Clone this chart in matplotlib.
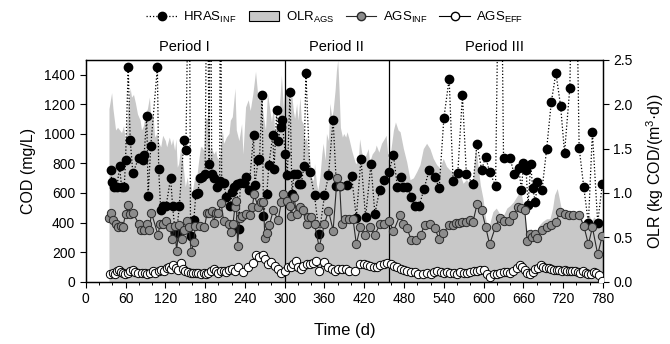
import matplotlib
matplotlib.use("Agg")
import matplotlib.pyplot as plt
from matplotlib.patches import Patch
from matplotlib.lines import Line2D
from matplotlib.ticker import MultipleLocator, FormatStrFormatter

plt.rcParams['font.family'] = ['Liberation Sans', 'DejaVu Sans']
plt.rcParams['mathtext.fontset'] = 'custom'
plt.rcParams['mathtext.rm'] = 'Liberation Sans'
plt.rcParams['mathtext.default'] = 'regular'

# HRAS influent COD (mg/L); points above 1500 run off the top of the chart
hras_day = [38, 39, 43, 47, 51, 54, 58, 60, 64, 67, 71, 80, 83, 86, 88, 92, 94, 98, 108, 110,
            113, 117, 121, 128, 131, 135, 137, 141, 148, 151, 156, 158, 163, 166, 169, 172, 176, 180, 183, 186,
            188, 190, 194, 198, 202, 203, 205, 208, 212, 218, 221, 224, 228, 231, 233, 238,
            241, 246, 253, 255, 260, 262, 266, 268, 273, 276, 282, 284, 288, 290, 294, 296, 301, 304, 308, 311,
            314, 318, 322, 325, 329, 332, 338, 345, 352, 360, 366, 373, 378, 383, 394, 401, 408, 415, 422, 430,
            436, 443, 450, 457, 464, 470,
            476, 479, 485, 491, 496, 503, 510, 518, 526, 533, 540, 548, 554, 561, 568, 574, 584, 590, 597, 603,
            609, 618, 625, 630, 640, 646, 653, 657, 660, 664, 667, 671, 674, 678, 681, 688, 695, 702, 709, 716,
            722, 730, 737, 744, 751, 758, 764, 772, 779]
hras_val = [753, 673, 640, 640, 780, 640, 640, 820, 1449, 961, 735, 838, 838, 825, 854, 1123, 579, 915, 1449, 759,
            486, 509, 509, 701, 509, 328, 328, 509, 956, 888, 2500, 310, 418, 594, 603, 698, 707, 725, 2500, 798,
            2500, 725, 701, 640, 680, 2500, 669, 669, 572, 509, 606, 640, 662, 357, 667, 667,
            707, 622, 990, 655, 825, 832, 1261, 447, 594, 786, 990, 764, 1164, 951, 1046, 1092, 861, 719, 1284, 594,
            725, 730, 662, 662, 780, 1408, 741, 583, 323, 583, 719, 1096, 644, 644, 651, 712, 432, 832, 436, 793,
            459, 617, 685, 741, 854, 640,
            711, 643, 643, 571, 514, 514, 627, 756, 711, 636, 1105, 1372, 681, 733, 1263, 726, 659, 934, 756, 846,
            740, 650, 3000, 835, 835, 726, 767, 620, 801, 756, 519, 794, 632, 537, 677, 620, 896, 1214, 1410, 1191,
            873, 1313, 3000, 907, 638, 395, 1011, 399, 659]

# AGS influent COD (mg/L)
inf_day = [35, 38, 41, 45, 49, 53, 56, 60, 64, 67, 71, 80, 83, 88, 92, 96, 99, 109, 112, 116,
           121, 127, 130, 134, 137, 141, 145, 148, 152, 156, 159, 163, 165, 172, 179, 183, 186, 190, 193, 196,
           200, 204, 208, 216, 219, 222, 225, 227, 229, 232, 236,
           241, 247, 251, 254, 260, 265, 268, 270, 273, 277, 283, 290, 295, 298, 303, 308, 310, 314, 318, 323,
           327, 333, 335, 340, 345, 352, 360, 366, 373, 379, 383, 386, 391, 397, 403, 408, 414, 421, 428, 436,
           444, 450, 458, 464,
           474, 479, 484, 491, 498, 505, 511, 519, 526, 533, 539, 548, 554, 559, 563, 568, 574, 579, 584, 590,
           597, 603, 609, 618, 624, 631, 639, 645, 652, 657, 662, 666, 670, 673, 677, 681, 688, 695, 702, 709,
           715, 722, 729, 735, 744, 751, 758, 764, 772, 779]
inf_val = [432, 463, 414, 391, 373, 375, 368, 459, 522, 459, 466, 391, 350, 350, 391, 350, 466, 316, 391, 391,
           409, 368, 289, 380, 210, 386, 289, 350, 409, 368, 199, 267, 380, 380, 368, 466, 466, 475, 400, 466,
           466, 533, 409, 391, 339, 391, 504, 545, 244, 429, 443,
           459, 452, 504, 590, 504, 538, 542, 296, 328, 386, 486, 414, 538, 590, 549, 515, 443, 572, 459, 504,
           486, 391, 436, 436, 391, 233, 391, 481, 346, 701, 644, 391, 425, 425, 425, 255, 368, 319, 373, 319,
           391, 391, 409, 341,
           451, 388, 365, 282, 282, 316, 384, 388, 365, 287, 327, 384, 384, 395, 395, 402, 402, 417, 406, 523,
           485, 372, 253, 372, 433, 411, 411, 451, 508, 496, 485, 275, 320, 305, 320, 298, 350, 372, 384, 402,
           474, 456, 451, 451, 451, 379, 253, 368, 185, 311]

# AGS effluent COD (mg/L)
eff_day = [37, 41, 44, 47, 50, 53, 56, 59, 63, 67, 71, 75, 79, 85, 89, 93, 97, 101, 105, 110,
           114, 118, 122, 126, 129, 132, 136, 139, 143, 147, 150, 154, 158, 162, 166, 170, 174, 178, 182, 185,
           189, 193, 196, 200, 204, 208, 212, 216, 220, 225, 230, 237, 245, 252, 257, 262, 267, 271, 275, 280,
           285, 290, 295, 300, 305, 309, 313, 317, 320, 324, 328, 333, 338, 343, 347, 352, 360, 365, 371, 376,
           381, 386, 392, 397, 406, 414, 419, 424, 429, 434, 439, 444, 449, 454, 460, 465, 470, 475, 480, 485,
           491, 496, 501, 508, 514, 520, 525, 530, 535, 540, 545, 550, 555, 560, 565, 570, 575, 580, 585, 590,
           595, 600, 605, 609, 615, 620, 625, 630, 635, 640, 645, 650, 655, 658, 662, 666, 670, 674, 678, 682,
           686, 690, 694, 698, 702, 706, 710, 714, 718, 722, 726, 730, 734, 738, 742, 746, 750, 754, 758, 762,
           766, 770, 774, 778]
eff_val = [55, 60, 55, 70, 80, 65, 60, 55, 60, 75, 80, 65, 60, 60, 60, 55, 60, 70, 60, 75,
           80, 70, 90, 100, 85, 110, 95, 80, 130, 85, 75, 65, 60, 60, 60, 60, 55, 60, 55, 60,
           75, 85, 70, 60, 75, 70, 65, 80, 86, 75, 97, 63, 102, 124, 183, 165, 183, 154, 120, 131,
           108, 86, 56, 75, 97, 97, 120, 138, 102, 86, 108, 120, 120, 124, 138, 75, 131, 97, 86, 75,
           86, 86, 86, 75, 70, 120, 120, 115, 108, 97, 102, 113, 120, 124, 120, 108, 97, 86, 79, 75,
           63, 63, 52, 52, 56, 55, 65, 75, 65, 60, 65, 60, 60, 55, 65, 60, 60, 65, 70, 75,
           80, 80, 50, 30, 55, 55, 60, 65, 65, 60, 70, 90, 110, 100, 80, 60, 50, 65, 85, 95,
           110, 100, 95, 90, 85, 80, 80, 80, 75, 80, 75, 70, 75, 70, 65, 60, 70, 60, 55, 55,
           65, 60, 45, 5]

# AGS organic loading rate, kg COD/(m3.d)
olr_day = [35, 39, 41, 45, 48, 51, 54, 57, 60, 62, 64, 67, 69, 72, 75, 78, 82, 84, 87, 90,
           93, 96, 98, 101, 104, 107, 110, 113, 116, 120, 122, 126, 129, 131, 134, 136, 138, 140, 143, 146,
           150, 153, 155, 158, 160, 163, 165, 168, 170, 173, 175, 178, 180, 183, 185, 187, 189, 193, 196, 198,
           201, 203, 206, 208, 212, 216, 218,
           221, 225, 227, 231, 235, 237, 241, 245, 248, 252, 256, 260, 264, 268, 271, 274, 277, 280, 283, 285,
           288, 290, 293, 295, 298, 300, 303, 305, 308, 310, 313, 315, 318, 320, 323, 325, 328, 330, 333, 335,
           338, 340, 343, 345, 348, 350, 353, 356, 358, 361, 363, 366, 368, 371, 373, 376, 378, 380, 382, 384,
           387, 389, 392, 394, 397, 401, 404, 407, 411, 413, 416, 418, 422, 426, 428, 432, 436, 438, 442, 446,
           450, 453, 456, 460, 464, 467, 471,
           474, 479, 484, 489, 494, 499, 504, 509, 514, 519, 524, 529, 534, 539, 544, 549, 554, 559, 564, 569,
           574, 579, 584, 588, 592, 595, 599, 603, 607, 610, 614, 619, 624, 630, 635, 640, 645, 650, 655, 657,
           661, 664, 667, 671, 675, 680, 684, 689, 695, 700, 704, 707, 711, 714, 718, 723, 728, 733, 738, 743,
           748, 751, 755, 759, 763, 766, 770, 774, 777, 780]
olr_val = [1.95, 2.13, 1.95, 1.71, 1.74, 1.71, 1.68, 1.76, 1.56, 1.78, 2.01, 2.18, 2.08, 2.11, 2.01, 1.89, 1.82, 1.71, 1.76, 1.90,
           1.95, 2.08, 1.84, 1.90, 1.63, 1.67, 1.57, 1.52, 1.65, 1.59, 1.52, 1.63, 1.54, 1.61, 1.48, 1.61, 1.29, 1.33, 1.50, 1.37,
           1.07, 1.18, 1.07, 1.14, 0.99, 1.12, 1.20, 1.22, 1.35, 1.52, 1.52, 1.48, 1.84, 1.84, 2.01, 1.48, 1.52, 1.44, 1.48, 1.40,
           1.37, 1.48, 1.71, 1.56, 1.63, 1.67, 1.82,
           1.86, 2.18, 1.71, 1.59, 1.78, 1.44, 1.97, 2.05, 1.93, 2.12, 2.37, 2.05, 2.12, 1.86, 1.71, 2.12, 1.97, 1.80, 1.97, 1.65,
           1.63, 1.82, 2.08, 2.33, 1.95, 2.20, 2.10, 2.16, 2.01, 2.16, 1.93, 1.84, 2.01, 1.82, 2.08, 1.82, 1.78, 1.59, 1.63, 1.48,
           1.37, 1.18, 1.14, 1.33, 1.10, 1.03, 1.18, 1.44, 1.56, 1.37, 1.67, 1.59, 2.01, 1.86, 1.93, 2.16, 2.38, 2.50, 2.16, 1.74,
           1.63, 1.67, 1.63, 1.69, 1.61, 1.48, 1.40, 1.33, 1.37, 1.61, 1.46, 1.40, 1.42, 1.50, 1.35, 1.44, 1.48, 1.54, 1.46, 1.56,
           1.61, 1.65, 1.37, 1.48, 1.71, 1.80, 1.71,
           1.69, 1.50, 1.35, 1.15, 1.17, 1.24, 1.32, 1.50, 1.56, 1.50, 1.39, 1.32, 1.28, 1.39, 1.30, 1.26, 1.24, 1.20, 1.22, 1.11,
           1.15, 1.11, 1.17, 1.54, 1.28, 1.09, 0.94, 0.71, 0.56, 0.68, 0.79, 0.83, 0.77, 0.75, 0.83, 0.86, 0.90, 0.96, 1.02, 0.98,
           0.83, 0.64, 0.53, 0.60, 0.56, 0.58, 0.64, 0.68, 0.71, 0.71, 0.83, 0.98, 1.05, 0.94, 0.79, 0.75, 0.75, 0.77, 0.75, 0.79,
           0.71, 0.64, 0.71, 0.75, 0.68, 0.73, 0.70, 0.70, 0.71, 0.68]

period_bounds = [300, 458]
period_names = ['Period I', 'Period II', 'Period III']
period_label_x = [149, 378, 617]

fig = plt.figure(figsize=(6.7, 3.44), dpi=100)
ax = fig.add_axes([0.128, 0.181, 0.772, 0.645])
ax2 = ax.twinx()
ax.set_zorder(ax2.get_zorder() + 1)
ax.patch.set_visible(False)

olr_color = '#c8c8c8'
ax2.fill_between(olr_day, olr_val, 0, color=olr_color, lw=0)
ax2.set_ylim(0, 2.5)

for b in period_bounds:
    ax.axvline(b, color='k', lw=0.9, zorder=1)

ax.plot(hras_day, hras_val, ls=(0, (1, 1.6)), color='k', lw=0.9,
        marker='o', ms=6, mfc='k', mec='k', zorder=3)
ax.plot(inf_day, inf_val, '-', color='#2a2a2a', lw=0.8,
        marker='o', ms=6, mfc='#8c8c8c', mec='#2a2a2a', mew=0.7, zorder=4)
ax.plot(eff_day, eff_val, '-', color='k', lw=0.8,
        marker='o', ms=6, mfc='white', mec='k', mew=0.7, zorder=5)

ax.set_xlim(0, 780)
ax.set_ylim(0, 1500)
ax.xaxis.set_major_locator(MultipleLocator(60))
ax.xaxis.set_minor_locator(MultipleLocator(20))
ax.yaxis.set_major_locator(MultipleLocator(200))
ax2.yaxis.set_major_locator(MultipleLocator(0.5))
ax2.yaxis.set_major_formatter(FormatStrFormatter('%.1f'))
ax.tick_params(which='major', direction='out', length=4, width=0.8, labelsize=10)
ax.tick_params(which='minor', direction='out', length=2.5, width=0.7)
ax2.tick_params(direction='out', length=4, width=0.8, labelsize=10)
for a in (ax, ax2):
    for s in a.spines.values():
        s.set_linewidth(0.9)

ax.set_xlabel('Time (d)', fontsize=12, labelpad=12)
ax.set_ylabel('COD (mg/L)', fontsize=11.5, labelpad=6)
ax2.set_ylabel('OLR (kg COD/(m$^{3}$·d))', fontsize=11.5, labelpad=8)

for x, name in zip(period_label_x, period_names):
    ax.text(x, 1590, name, ha='center', va='center', fontsize=10.5, clip_on=False)

handles = [
    Line2D([], [], ls=(0, (1, 1.6)), color='k', lw=0.9, marker='o', ms=6, mfc='k'),
    Patch(facecolor=olr_color, edgecolor='k', lw=0.8),
    Line2D([], [], ls='-', color='#2a2a2a', lw=0.8, marker='o', ms=6, mfc='#8c8c8c', mec='#2a2a2a'),
    Line2D([], [], ls='-', color='k', lw=0.8, marker='o', ms=6, mfc='white', mec='k'),
]
labels = ['$HRAS_{INF}$', '$OLR_{AGS}$', '$AGS_{INF}$', '$AGS_{EFF}$']
fig.legend(handles, labels, loc='center', bbox_to_anchor=(0.5, 0.95), ncol=4,
           frameon=False, fontsize=9.5, handlelength=2.3, columnspacing=0.9, handletextpad=0.5)

fig.savefig('out.png', dpi=100)
